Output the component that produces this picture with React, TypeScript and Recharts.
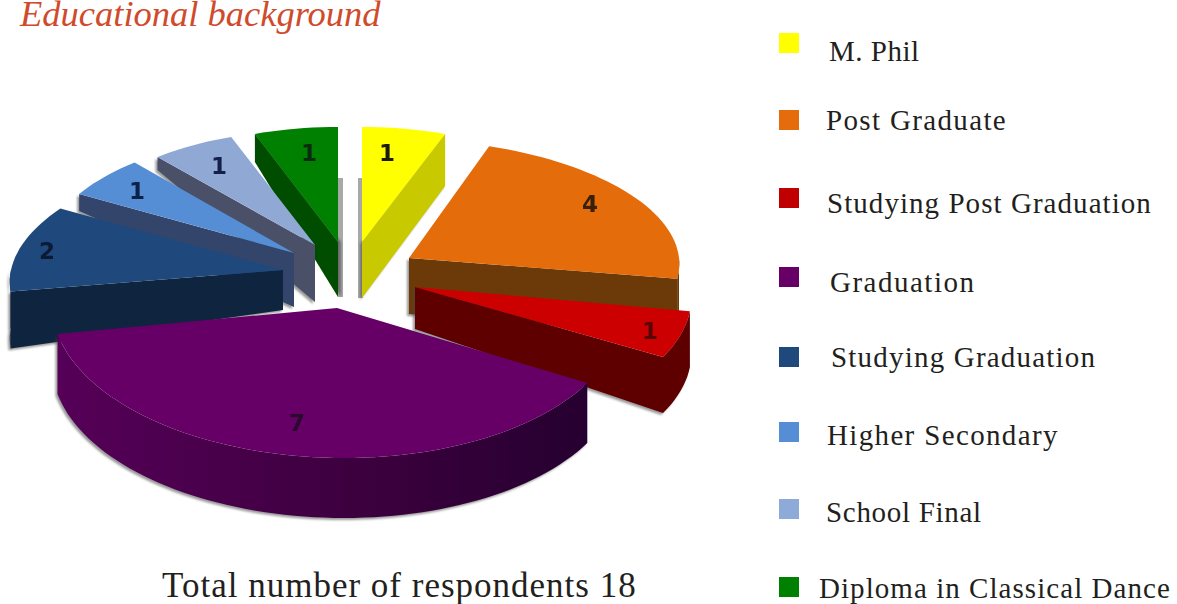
import React from "react";
import { PieChart, Pie, Legend } from "recharts";

// ---- data ----
const categories = [
  "M. Phil",
  "Post Graduate",
  "Studying Post Graduation",
  "Graduation",
  "Studying Graduation",
  "Higher Secondary",
  "School Final",
  "Diploma in Classical Dance",
];
const respondents = [1, 4, 1, 7, 2, 1, 1, 1];
const title = "Educational background";
const footer = "Total number of respondents 18";

// ---- styles ----
const topColors = ["#ffff00", "#e46c0a", "#cc0000", "#660066", "#1f497d", "#558ed5", "#8fa8d4", "#008000"];
const wallColors = ["#c9c900", "#6b3a08", "#5e0000", "url(#purpleWall)", "#0f243e", "#33456a", "#4a5068", "#004d00"];
const swatchColors = ["#ffff00", "#e46c0a", "#c00000", "#660066", "#1f497d", "#558ed5", "#8eaad8", "#008000"];
const labelColors = ["#1a1a10", "#3a2008", "#5a0505", "#2c0a30", "#0c1a35", "#0c2248", "#14204a", "#0b2a10"];
// back-to-front painting order (indexes into categories)
const paintOrder = [7, 6, 5, 4, 0, 1, 2, 3];

// per-slice 3D projection: apex, ellipse radii, shear, wall heights at apex / rim, label offset
const projection = [
  { ax: 362, ay: 242, rx: 243, ry: 115, sk: 0, dA: 56, dR: 52, lx: 25, ly: -90 },
  { ax: 409, ay: 258, rx: 270, ry: 119, sk: 13, dA: 56, dR: 55, lx: 181, ly: -55 },
  { ax: 415, ay: 287, rx: 276, ry: 140, sk: 18, dA: 42, dR: 56, lx: 235, ly: 43 },
  { ax: 337, ay: 308, rx: 285, ry: 150, sk: 7, dA: 58, dR: 60, lx: -40, ly: 114 },
  { ax: 283, ay: 270, rx: 272, ry: 123, sk: -26, dA: 40, dR: 57, lx: -236, ly: -20 },
  { ax: 294, ay: 253, rx: 248, ry: 118, sk: 0, dA: 54, dR: 17, lx: -157, ly: -63 },
  { ax: 315, ay: 245, rx: 245, ry: 115, sk: 0, dA: 57, dR: 13, lx: -96, ly: -80 },
  { ax: 338, ay: 242, rx: 243, ry: 115, sk: 0, dA: 55, dR: 28, lx: -29, ly: -90 },
];

const legendRows = [
  { sy: 33, tx: 829, by: 61, ls: 0.5 },
  { sy: 110, tx: 826, by: 130, ls: 1.35 },
  { sy: 188, tx: 827, by: 213, ls: 1.05 },
  { sy: 267, tx: 830, by: 292, ls: 1.5 },
  { sy: 347, tx: 831, by: 367, ls: 1.2 },
  { sy: 422, tx: 827, by: 445, ls: 1.35 },
  { sy: 499, tx: 826, by: 522, ls: 0.7 },
  { sy: 577, tx: 819, by: 598, ls: 1.05 },
];

const total = respondents.reduce((a, b) => a + b, 0);
const cumulative = respondents.map((_, i) => respondents.slice(0, i).reduce((a, b) => a + b, 0));
const rad = (d: number) => (d * Math.PI) / 180;
const SERIF = "'Liberation Serif', serif";

function Slice3D(props: any) {
  const i = categories.indexOf(props.name ?? props.payload?.name);
  const p = projection[i];
  const a = 90 - Math.max(props.startAngle, props.endAngle);
  const b = 90 - Math.min(props.startAngle, props.endAngle);
  const pt = (t: number, d = 0) => {
    const u = Math.sin(rad(t));
    const v = -Math.cos(rad(t));
    return [p.ax + p.rx * u + p.sk * v, p.ay + p.ry * v + d];
  };
  const arc = (from: number, to: number, d = 0) => {
    const n = Math.max(2, Math.ceil(Math.abs(to - from) / 2));
    const out: number[][] = [];
    for (let k = 0; k <= n; k++) out.push(pt(from + ((to - from) * k) / n, d));
    return out;
  };
  const poly = (pts: number[][]) => "M" + pts.map((q) => q[0].toFixed(1) + "," + q[1].toFixed(1)).join("L") + "Z";
  const apex = [p.ax, p.ay];
  const faces: string[] = [];
  const norm = (t: number) => ((t % 360) + 360) % 360;
  if (norm(b) > 0 && norm(b) < 180) {
    const r = pt(b);
    faces.push(poly([apex, r, [r[0], r[1] + p.dR], [apex[0], apex[1] + p.dA]]));
  }
  if (norm(a) > 180) {
    const r = pt(a);
    faces.push(poly([apex, r, [r[0], r[1] + p.dR], [apex[0], apex[1] + p.dA]]));
  }
  const wa = Math.max(norm(a), 90);
  const wb = Math.min(norm(a) + (b - a), 270);
  const wall = wb > wa ? poly([...arc(wa, wb), ...arc(wb, wa, p.dR)]) : null;
  const shadow = i === 7 ? "drop-shadow(3px 0px 1px rgba(70,70,70,.6))" : "drop-shadow(-2px 2px 1px rgba(70,70,70,.55))";
  return (
    <g style={{ filter: "blur(0.4px)" }}>
      <defs>
        <linearGradient id="purpleWall" x1="0" x2="1" y1="0" y2="0">
          <stop offset="0" stopColor="#560058" />
          <stop offset="0.55" stopColor="#3d003f" />
          <stop offset="1" stopColor="#260030" />
        </linearGradient>
      </defs>
      {(i === 0 || i === 7) && (
        <rect x={i === 0 ? p.ax - 4 : p.ax} y={p.ay - 64} width={5} height={64 + p.dA} fill="#a8a8a8" />
      )}
      <g style={{ filter: shadow }}>
        {faces.map((f, k) => (
          <path key={k} d={f} fill={wallColors[i]} />
        ))}
        {wall && <path d={wall} fill={wallColors[i]} />}
      </g>
      <path d={poly([apex, ...arc(a, b)])} fill={topColors[i]} />
      <text
        x={p.ax + p.lx}
        y={p.ay + p.ly + 9}
        textAnchor="middle"
        fontFamily="'DejaVu Sans', sans-serif"
        fontWeight={700}
        fontSize={23}
        fill={labelColors[i]}
      >
        {props.value}
      </text>
    </g>
  );
}

function LegendContent() {
  return (
    <svg width={1177} height={604} style={{ position: "absolute", left: 0, top: 0 }}>
      {categories.map((c, i) => (
        <g key={c}>
          <rect x={779} y={legendRows[i].sy} width={20} height={20} fill={swatchColors[i]} style={{ filter: "blur(0.7px)" }} />
          <text
            x={legendRows[i].tx}
            y={legendRows[i].by}
            fontFamily={SERIF}
            fontSize={29}
            letterSpacing={legendRows[i].ls}
            fill="#231f20"
          >
            {c}
          </text>
        </g>
      ))}
      <text x={20} y={26} fontFamily={SERIF} fontStyle="italic" fontSize={36.5} fill="#d04a2c">
        {title}
      </text>
      <text x={162} y={597} fontFamily={SERIF} fontSize={35} letterSpacing={1} fill="#231f20">
        {footer}
      </text>
    </svg>
  );
}

export default function App() {
  return (
    <div style={{ position: "absolute", left: 0, top: 0, width: 1177, height: 604, background: "#fff" }}>
      <PieChart width={1177} height={604} margin={{ top: 0, right: 0, bottom: 0, left: 0 }}>
        {paintOrder.map((i) => (
          <Pie
            key={categories[i]}
            data={[{ name: categories[i], value: respondents[i] }]}
            dataKey="value"
            nameKey="name"
            cx={345}
            cy={300}
            outerRadius={200}
            startAngle={90 - (cumulative[i] / total) * 360}
            endAngle={90 - ((cumulative[i] + respondents[i]) / total) * 360}
            stroke="none"
            labelLine={false}
            shape={Slice3D}
            isAnimationActive={false}
          />
        ))}
        <Legend content={LegendContent} wrapperStyle={{ position: "absolute", left: 0, top: 0, width: 1177, height: 604 }} />
      </PieChart>
    </div>
  );
}
